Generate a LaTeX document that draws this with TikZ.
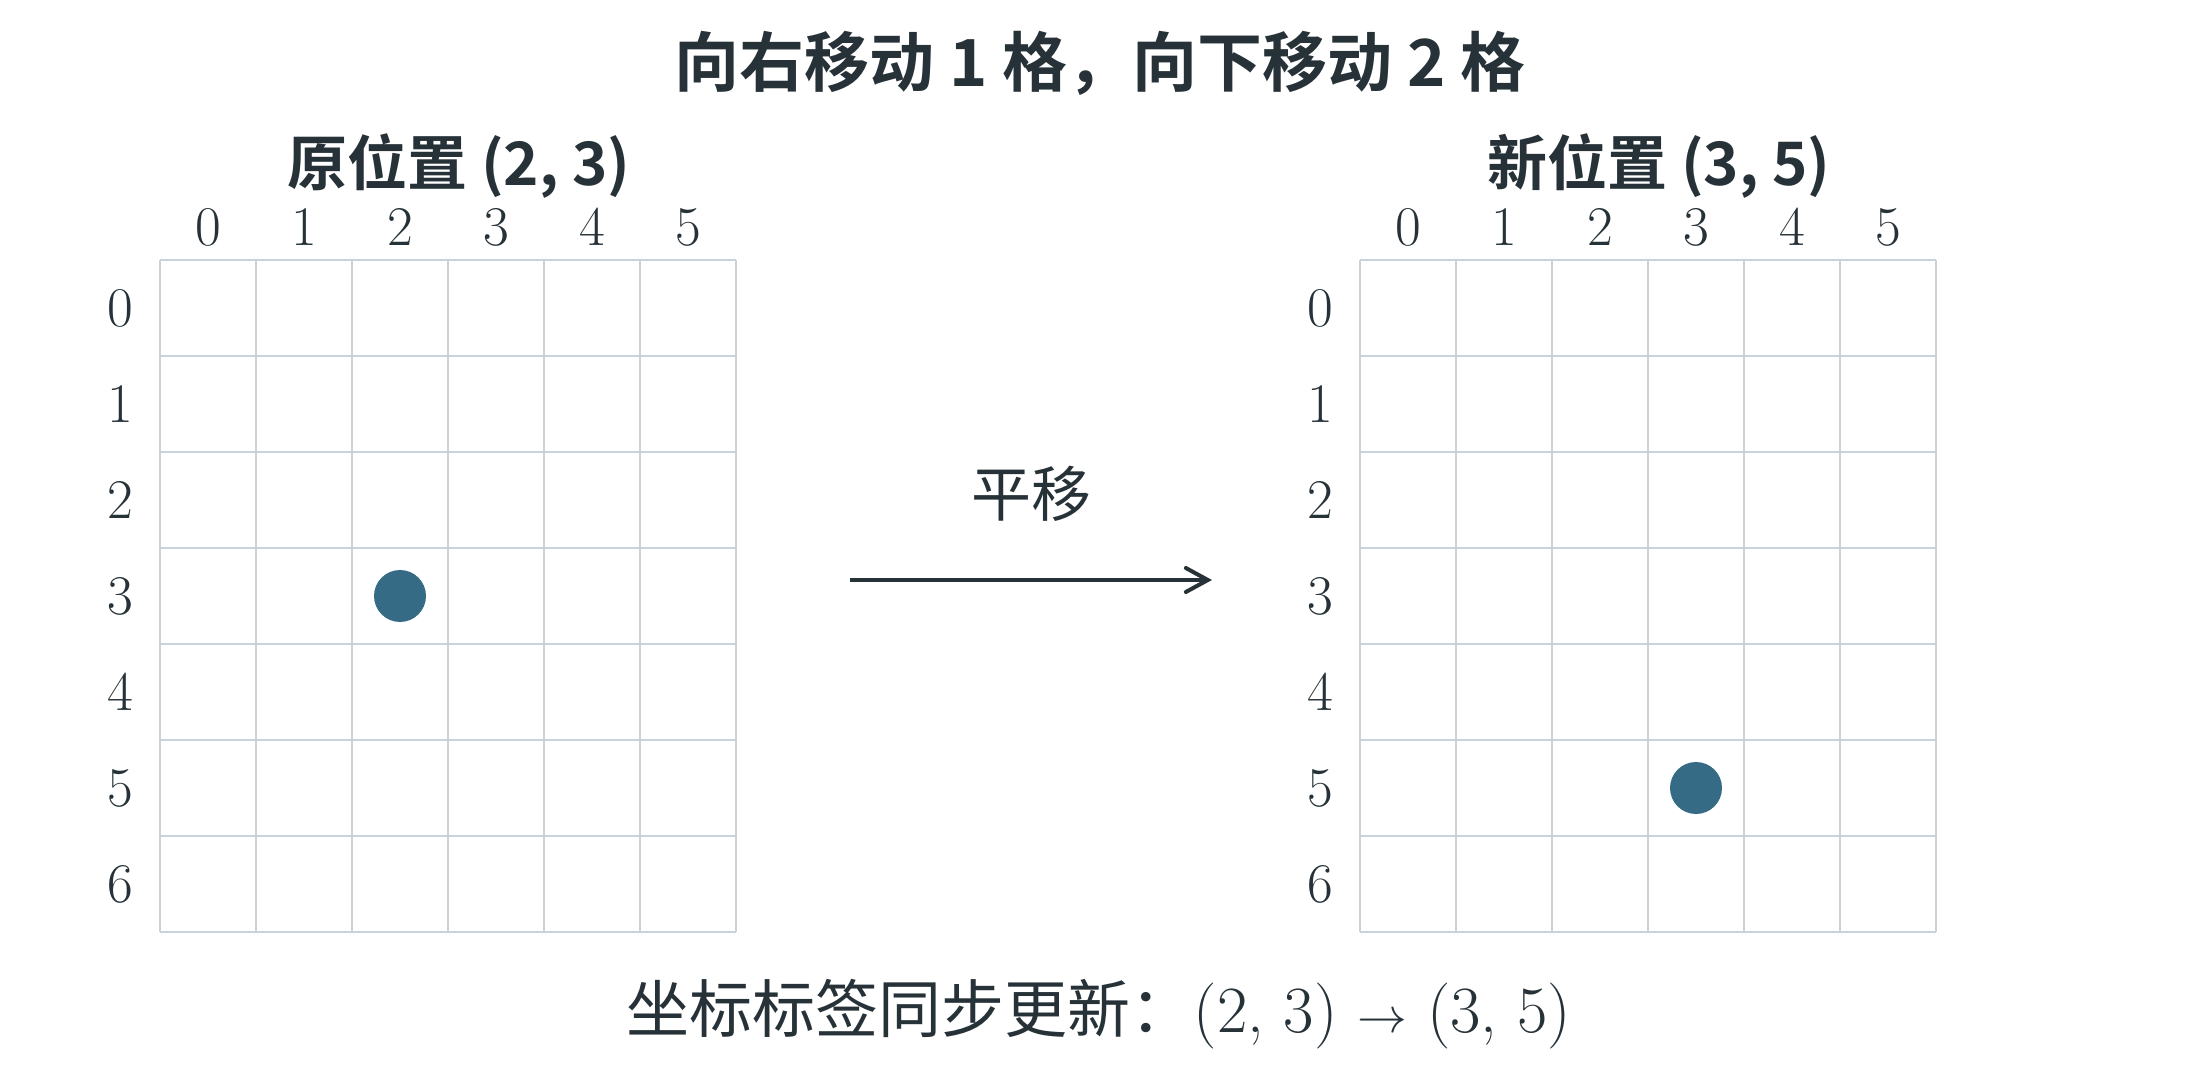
\documentclass[tikz,border=0pt]{standalone}
\usepackage{fontspec}
\newfontfamily\heibf{Noto Sans CJK SC Bold}
\newfontfamily\song{Noto Sans CJK SC}
\usepackage{tikz}
\usetikzlibrary{arrows.meta,positioning}
\definecolor{ink}{HTML}{263238}
\definecolor{gridgray}{HTML}{C9D3DB}
\definecolor{dotblue}{HTML}{356B84}

\begin{document}
\begin{tikzpicture}[x=0.5pt,y=-0.5pt]
	\tikzstyle{gridline}=[draw=gridgray, line width=1pt]
	\tikzstyle{ticklabel}=[font=\fontsize{28}{28}\selectfont, text=ink, inner sep=0pt]
	\tikzstyle{headline}=[font=\heibf\fontsize{32.5}{32.5}\selectfont, text=ink, inner sep=0pt]
	\tikzstyle{paneltitle}=[font=\heibf\fontsize{30}{30}\selectfont, text=ink, inner sep=0pt]
	\tikzstyle{note}=[font=\fontsize{30}{30}\selectfont, text=ink, inner sep=0pt]
	\tikzstyle{marker}=[circle, fill=dotblue, minimum size=26pt, inner sep=0pt]
	\useasboundingbox (0,0) rectangle (2200,1090);
	\node[headline] (title) at (1100,63) {向右移动 1 格，向下移动 2 格};
	% the two grids, old one on the left, new one on the right
	\foreach \gx/\gname/\gtext in {160/old/{原位置 (2, 3)},1360/new/{新位置 (3, 5)}} {
		\foreach \i in {0,...,6}
			\draw[gridline] (\gx+96*\i,260) -- (\gx+96*\i,932);
		\foreach \j in {0,...,7}
			\draw[gridline] (\gx,260+96*\j) -- (\gx+576,260+96*\j);
		\foreach \i in {0,...,5}
			\node[ticklabel] (\gname col\i) at (\gx+48+96*\i,227) {\i};
		\foreach \j in {0,...,6}
			\node[ticklabel] (\gname row\j) at (\gx-40,308+96*\j) {\j};
		\node[paneltitle] (\gname head) at (\gx+299,166) {\gtext};
	}
	\node[marker] (olddot) at (400,596) {};
	\node[marker] (newdot) at (1696,788) {};
	% translation arrow
	\coordinate (shiftstart) at (850,580);
	\coordinate (shiftend) at (1212,580);
	\draw[ink, line width=2pt, -{Straight Barb[length=11pt,width=12pt,line cap=round]}] (shiftstart) -- (shiftend);
	\node[note, font=\song\fontsize{30}{30}\selectfont] (shiftlabel) at (1031,494) {平移};
	\node[note, font=\fontsize{33}{33}\selectfont] (summary) at (1099,1014) {{\song\fontsize{31.5}{31.5}\selectfont 坐标标签同步更新：}(2, 3) $\rightarrow$ (3, 5)};
\end{tikzpicture}
\end{document}
